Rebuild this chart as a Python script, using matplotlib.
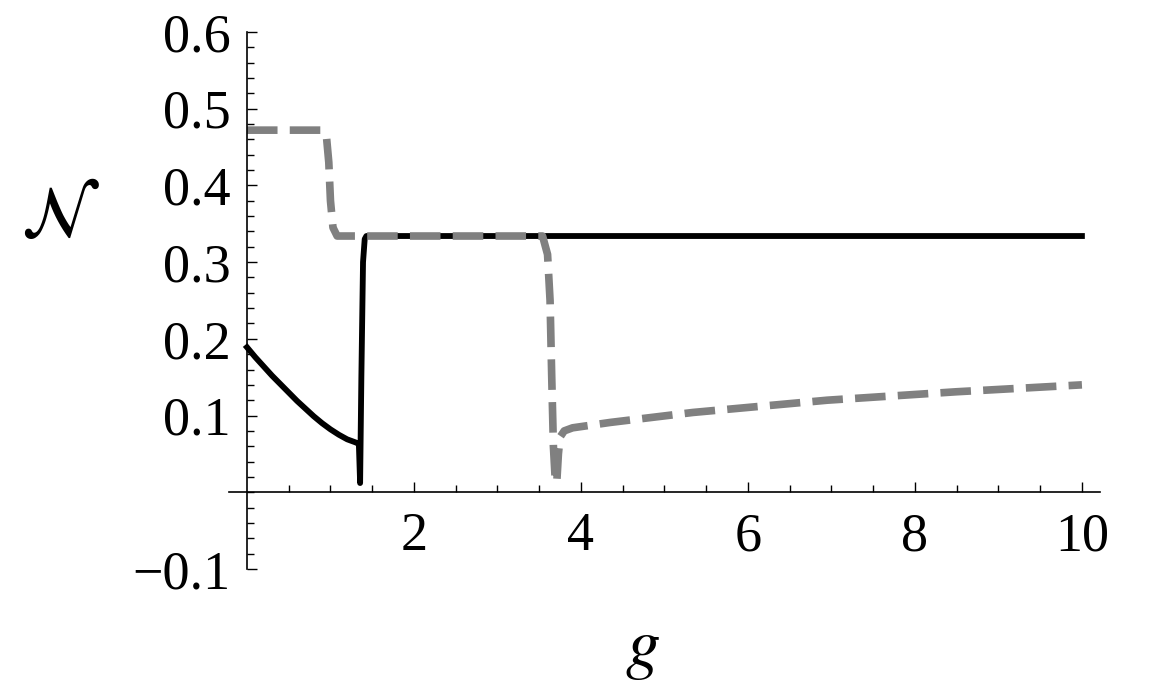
import numpy as np
import matplotlib
matplotlib.use("Agg")
from matplotlib import pyplot as plt

plt.rcParams['font.family'] = ['Liberation Serif', 'DejaVu Serif']
plt.rcParams['mathtext.fontset'] = 'stix'

# dashed grey curve
g_dash = [0.0, 0.90, 0.95, 0.98, 1.00, 1.03, 1.08, 3.54, 3.60, 3.63, 3.65, 3.67, 3.69, 3.71,
          3.73, 3.75, 3.80, 3.90, 4.35, 5.34, 6.95, 8.5, 10.0]
n_dash = [0.472, 0.472, 0.466, 0.43, 0.38, 0.345, 0.334, 0.334, 0.31, 0.25, 0.15, 0.06, 0.02, 0.012,
          0.05, 0.072, 0.080, 0.084, 0.091, 0.104, 0.120, 0.131, 0.140]

# solid black curve
g_solid = [0.0, 0.1, 0.2, 0.3, 0.4, 0.5, 0.6, 0.7, 0.8, 0.9, 1.0, 1.1, 1.2, 1.3, 1.34,
           1.355, 1.37, 1.39, 1.41, 1.43, 10.0]
n_solid = [0.189, 0.176, 0.164, 0.152, 0.141, 0.130, 0.119, 0.109, 0.099, 0.090, 0.082, 0.075,
           0.069, 0.065, 0.063, 0.012, 0.15, 0.30, 0.330, 0.334, 0.334]

xticks = [2, 4, 6, 8, 10]
yticks = [-0.1, 0.1, 0.2, 0.3, 0.4, 0.5, 0.6]

fig = plt.figure(figsize=(11.57, 6.9), dpi=100)
ax = fig.add_axes([0.1979, 0.1754, 0.7528, 0.7783])

ax.plot(g_solid, n_solid, color='black', lw=4.2, solid_joinstyle='round')
ax.plot(g_dash, n_dash, color='#808080', lw=5.5, dashes=(4.0, 1.6),
        dash_capstyle='butt', dash_joinstyle='round')

ax.set_xlim(-0.2156, 10.216)
ax.set_ylim(-0.1, 0.6)

for s in ['top', 'right']:
    ax.spines[s].set_visible(False)
ax.spines['left'].set_position(('data', 0))
ax.spines['bottom'].set_position(('data', 0))
ax.spines['left'].set_linewidth(1.2)
ax.spines['bottom'].set_linewidth(1.2)

ax.set_xticks(xticks)
ax.set_xticklabels([str(v) for v in xticks])
ax.set_xticks(np.arange(0.5, 10.01, 0.5), minor=True)
ax.set_yticks(yticks)
ax.set_yticklabels([('%.1f' % v).replace('-', '\u2212') for v in yticks])
ax.set_yticks(np.arange(-0.1, 0.601, 0.02), minor=True)

ax.tick_params(which='both', direction='in', width=1.0, labelsize=39)
ax.tick_params(axis='x', which='major', length=7.2, pad=14)
ax.tick_params(axis='y', which='major', length=7.2, pad=12)
ax.tick_params(which='minor', length=5)

fig.text(60 / 1157, 1 - 219 / 690, r'$\mathcal{N}$', fontsize=52, ha='center', va='center')
fig.text(642 / 1157, 1 - 650 / 690, r'$g$', fontsize=50, ha='center', va='center')

fig.savefig('out.png', dpi=100)
